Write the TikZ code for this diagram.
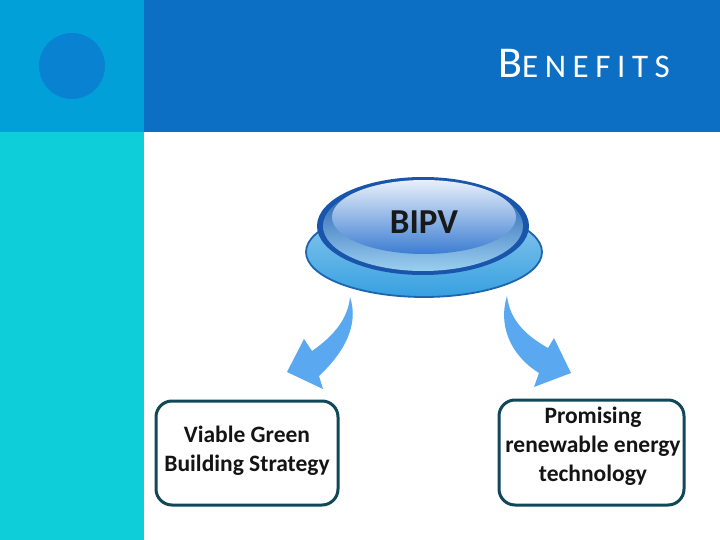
\documentclass[tikz,border=0pt]{standalone}
\usepackage{fontspec}
\setmainfont{Carlito}
\begin{document}
\begin{tikzpicture}[x=1pt,y=-1pt,
  boxstyle/.style={draw=boxline,line width=3pt,rounded corners=16pt,fill=white},
  arrowstyle/.style={fill=arrowblue,draw=none},
  boxtext/.style={align=center,font=\bfseries\fontsize{23.5}{29}\selectfont,text=black!92}]
\definecolor{leftpanel}{RGB}{2,160,217}
\definecolor{leftcyan}{RGB}{14,206,218}
\definecolor{topband}{RGB}{13,111,196}
\definecolor{dotblue}{RGB}{10,130,210}
\definecolor{boxline}{RGB}{16,72,88}
\definecolor{arrowblue}{RGB}{90,168,240}
\definecolor{baseblue}{RGB}{55,160,225}
\definecolor{baseedge}{RGB}{30,100,175}
\definecolor{diskdark}{RGB}{25,85,170}
\definecolor{facelight}{RGB}{232,240,250}
\definecolor{faceblue}{RGB}{60,125,210}
\useasboundingbox (0,0) rectangle (720,540);
\fill[white] (0,0) rectangle (720,540);
% panels
\fill[leftcyan] (0,132) rectangle (144,540);
\fill[leftpanel] (0,0) rectangle (144,132);
\fill[topband] (144,0) rectangle (720,132);
\fill[dotblue] (72,66) circle[radius=33];
\node[anchor=base east,text=white,inner sep=0] (title) at (670,78)
  {\addfontfeature{LetterSpace=20}\fontsize{44}{44}\selectfont B\fontsize{33}{33}\selectfont ENEFITS};
% BIPV disk
\shade[top color=baseblue!55!white,bottom color=baseblue,draw=baseedge,line width=1.8pt]
  (424,252) ellipse[x radius=118,y radius=45];
\fill[diskdark] (423,226) ellipse[x radius=106,y radius=49];
\shade[top color=diskdark,bottom color=baseblue!50!white] (423,226) ellipse[x radius=100,y radius=45];
\shade[top color=facelight,bottom color=faceblue] (424,217) ellipse[x radius=92,y radius=37];
\node[font=\bfseries\fontsize{35}{35}\selectfont,text=black!90] (bipv) at (424,222) {BIPV};
% arrows
\fill[arrowstyle] (350,297) .. controls (357,318) and (352,345) .. (319,376) -- (323,389) -- (287,372) -- (304,339) -- (312,351) .. controls (335,335) and (348,318) .. (350,297) -- cycle;
\fill[arrowstyle] (507,296) .. controls (498,325) and (510,355) .. (539,373) -- (534,387) -- (571,373) -- (554,338) -- (548,348) .. controls (525,335) and (510,320) .. (507,296) -- cycle;
% boxes
\draw[boxstyle] (156,401) rectangle (338,505);
\draw[boxstyle] (499,400) rectangle (684,505);
\node[boxtext] (left) at (247,451) {Viable Green\\Building Strategy};
\node[boxtext] (right) at (593,446) {Promising\\renewable energy\\technology};
\end{tikzpicture}
\end{document}
